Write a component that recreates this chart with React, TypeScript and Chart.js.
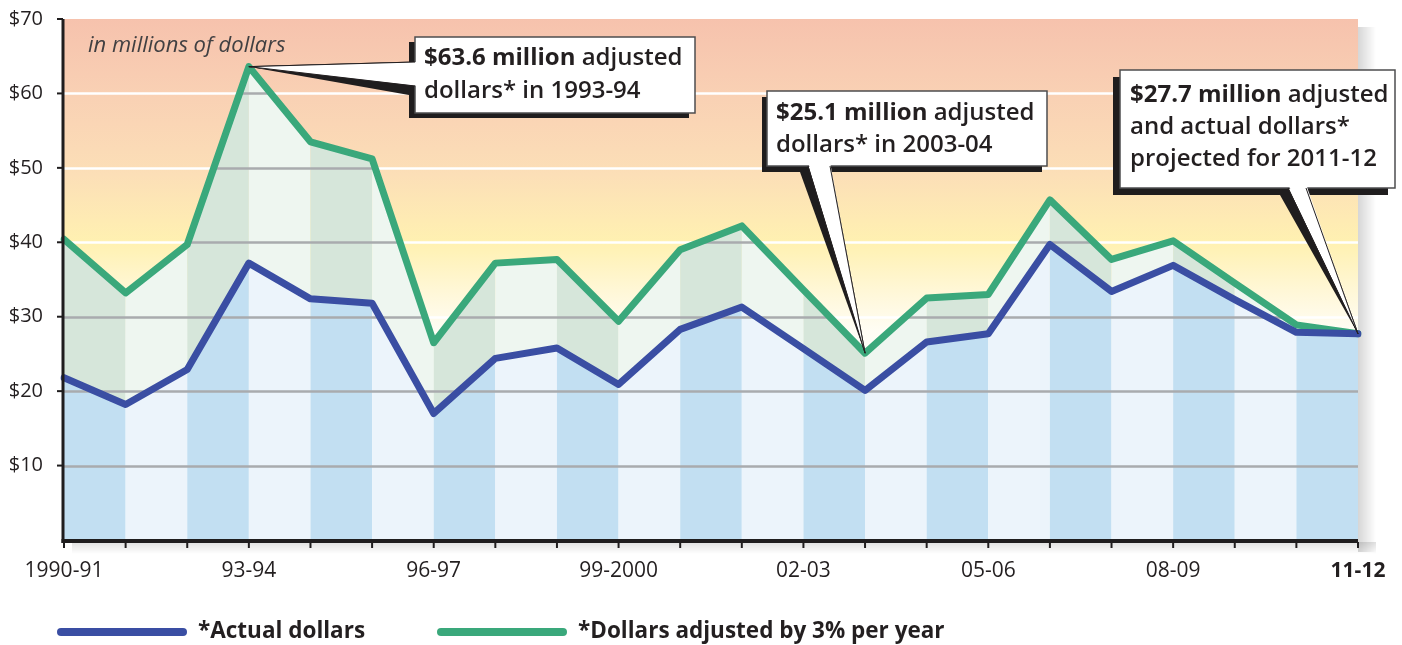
import React, { useEffect, useRef } from 'react';
import { Chart, registerables } from 'chart.js';

Chart.register(...registerables);

// ---------- DATA ----------
const categories = [
  '1990-91', '91-92', '92-93', '93-94', '94-95', '95-96', '96-97', '97-98', '98-99', '99-2000',
  '2000-01', '01-02', '02-03', '03-04', '04-05', '05-06', '06-07', '07-08', '08-09', '09-10',
  '10-11', '11-12',
];
const actualDollars = [
  21.8, 18.2, 22.9, 37.2, 32.4, 31.8, 17.0, 24.4, 25.8, 20.9,
  28.3, 31.3, 25.7, 20.1, 26.6, 27.7, 39.7, 33.4, 36.9, 32.3,
  27.9, 27.7,
];
const adjustedDollars = [
  40.4, 33.2, 39.7, 63.6, 53.5, 51.2, 26.5, 37.2, 37.7, 29.4,
  39.0, 42.2, 33.6, 25.1, 32.5, 33.0, 45.7, 37.7, 40.2, 34.5,
  28.9, 27.7,
];
const shownXLabels = ['1990-91', '93-94', '96-97', '99-2000', '02-03', '05-06', '08-09', '11-12'];
const boldXLabel = '11-12';
const yMax = 70;
const yStep = 10;
const unitNote = 'in millions of dollars';
const seriesNames = ['*Actual dollars', '*Dollars adjusted by 3% per year'];

const callout1Lines = [['$63.6 million', ' adjusted'], ['', 'dollars* in 1993-94']];
const callout2Lines = [['$25.1 million', ' adjusted'], ['', 'dollars* in 2003-04']];
const callout3Lines = [['$27.7 million', ' adjusted'], ['', 'and actual dollars*'], ['', 'projected for 2011-12']];
const callout1Index = 3;
const callout2Index = 13;
const callout3Index = 21;

// ---------- STYLE ----------
const FONT = "'Open Sans', sans-serif";
const TEXT = '#231f20';
const BLUE = '#3a4ea3';
const GREEN = '#3aa87b';

type P = { x: number; y: number };

function drawCallout(
  ctx: CanvasRenderingContext2D,
  tip: P,
  box: { x: number; y: number; w: number; h: number },
  sh: P,
  wB: [P, P],
  sB: [P, P],
  inward: P,
  lines: string[][],
  textX: number,
  textY: number,
  lineH: number,
) {
  ctx.save();
  ctx.fillStyle = '#1f1d1e';
  ctx.fillRect(box.x + sh.x, box.y + sh.y, box.w, box.h);
  ctx.beginPath();
  ctx.moveTo(tip.x, tip.y);
  ctx.lineTo(sB[0].x, sB[0].y);
  ctx.lineTo(sB[1].x, sB[1].y);
  ctx.closePath();
  ctx.fill();
  ctx.beginPath();
  ctx.moveTo(tip.x, tip.y);
  ctx.lineTo(wB[0].x, wB[0].y);
  ctx.lineTo(wB[1].x, wB[1].y);
  ctx.closePath();
  ctx.fillStyle = '#ffffff';
  ctx.fill();
  ctx.strokeStyle = TEXT;
  ctx.lineWidth = 1;
  ctx.stroke();
  ctx.fillStyle = '#ffffff';
  ctx.fillRect(box.x, box.y, box.w, box.h);
  ctx.strokeStyle = '#4d4d4f';
  ctx.lineWidth = 1.5;
  ctx.strokeRect(box.x, box.y, box.w, box.h);
  ctx.beginPath();
  ctx.moveTo(tip.x, tip.y);
  ctx.lineTo(wB[0].x + inward.x, wB[0].y + inward.y);
  ctx.lineTo(wB[1].x + inward.x, wB[1].y + inward.y);
  ctx.closePath();
  ctx.save();
  ctx.clip();
  ctx.fillStyle = '#ffffff';
  ctx.fillRect(Math.min(tip.x, wB[0].x, wB[1].x) - 5, Math.min(tip.y, wB[0].y, wB[1].y) - 5, 2000, 2000);
  ctx.restore();
  ctx.beginPath();
  ctx.moveTo(wB[0].x, wB[0].y);
  ctx.lineTo(tip.x, tip.y);
  ctx.lineTo(wB[1].x, wB[1].y);
  ctx.strokeStyle = TEXT;
  ctx.lineWidth = 1;
  ctx.stroke();
  ctx.fillStyle = TEXT;
  ctx.textBaseline = 'middle';
  ctx.textAlign = 'left';
  lines.forEach((ln, i) => {
    const y = textY + i * lineH;
    let x = textX;
    if (ln[0]) {
      ctx.font = `bold 24px ${FONT}`;
      ctx.fillText(ln[0], x, y);
      x += ctx.measureText(ln[0]).width;
    }
    ctx.font = `600 24px ${FONT}`;
    ctx.fillText(ln[1], x, y);
  });
  ctx.restore();
}

const decorPlugin = {
  id: 'decor',
  beforeDatasetsDraw(chart: any) {
    const { ctx, chartArea: ca, scales } = chart;
    const xs = scales.x;
    const ys = scales.y;
    const base = ys.getPixelForValue(0);
    ctx.save();
    const g = ctx.createLinearGradient(0, ca.top, 0, ca.bottom);
    g.addColorStop(0, '#f6c2ad');
    g.addColorStop(0.15, '#f9d1b4');
    g.addColorStop(0.3, '#fcdfb7');
    g.addColorStop(0.43, '#fff1b1');
    g.addColorStop(0.52, '#fff7d6');
    g.addColorStop(0.6, '#fffdf5');
    g.addColorStop(0.7, '#ffffff');
    g.addColorStop(1, '#ffffff');
    ctx.fillStyle = g;
    ctx.fillRect(ca.left, ca.top, ca.right - ca.left, ca.bottom - ca.top);

    const rs = ctx.createLinearGradient(ca.right, 0, ca.right + 18, 0);
    rs.addColorStop(0, 'rgba(0,0,0,0.16)');
    rs.addColorStop(1, 'rgba(0,0,0,0)');
    ctx.fillStyle = rs;
    ctx.fillRect(ca.right, ca.top + 8, 18, ca.bottom - ca.top + 4);
    const bs = ctx.createLinearGradient(0, ca.bottom + 2, 0, ca.bottom + 14);
    bs.addColorStop(0, 'rgba(0,0,0,0.12)');
    bs.addColorStop(1, 'rgba(0,0,0,0)');
    ctx.fillStyle = bs;
    ctx.fillRect(ca.left + 8, ca.bottom + 2, ca.right - ca.left + 10, 12);

    ctx.strokeStyle = '#ffffff';
    ctx.lineWidth = 2.5;
    for (let v = yStep; v < yMax; v += yStep) {
      const py = Math.round(ys.getPixelForValue(v)) + 0.5;
      ctx.beginPath();
      ctx.moveTo(ca.left, py);
      ctx.lineTo(ca.right, py);
      ctx.stroke();
    }

    const n = categories.length;
    for (let i = 0; i < n - 1; i++) {
      const x0 = xs.getPixelForValue(i);
      const x1 = xs.getPixelForValue(i + 1);
      const b0 = ys.getPixelForValue(actualDollars[i]);
      const b1 = ys.getPixelForValue(actualDollars[i + 1]);
      const g0 = ys.getPixelForValue(adjustedDollars[i]);
      const g1 = ys.getPixelForValue(adjustedDollars[i + 1]);
      const dark = i % 2 === 0;
      ctx.beginPath();
      ctx.moveTo(x0, base);
      ctx.lineTo(x0, b0);
      ctx.lineTo(x1, b1);
      ctx.lineTo(x1, base);
      ctx.closePath();
      ctx.fillStyle = dark ? '#c2dff2' : '#ecf4fb';
      ctx.fill();
      ctx.beginPath();
      ctx.moveTo(x0, b0);
      ctx.lineTo(x0, g0);
      ctx.lineTo(x1, g1);
      ctx.lineTo(x1, b1);
      ctx.closePath();
      ctx.fillStyle = dark ? '#d6e6da' : '#eef6f0';
      ctx.fill();
    }

    ctx.save();
    ctx.beginPath();
    ctx.moveTo(xs.getPixelForValue(0), base);
    for (let i = 0; i < n; i++) ctx.lineTo(xs.getPixelForValue(i), ys.getPixelForValue(adjustedDollars[i]));
    ctx.lineTo(xs.getPixelForValue(n - 1), base);
    ctx.closePath();
    ctx.clip();
    ctx.strokeStyle = '#a9abae';
    ctx.lineWidth = 2.5;
    for (let v = yStep; v < yMax; v += yStep) {
      const py = Math.round(ys.getPixelForValue(v)) + 0.5;
      ctx.beginPath();
      ctx.moveTo(ca.left, py);
      ctx.lineTo(ca.right, py);
      ctx.stroke();
    }
    ctx.restore();

    ctx.fillStyle = '#414042';
    ctx.font = `italic 22px ${FONT}`;
    ctx.textBaseline = 'middle';
    ctx.textAlign = 'left';
    ctx.fillText(unitNote, ca.left + 24, ca.top + 27);
    ctx.restore();
  },
  afterDatasetsDraw(chart: any) {
    const { ctx, chartArea: ca, scales } = chart;
    const xs = scales.x;
    const ys = scales.y;
    const base = ys.getPixelForValue(0);
    ctx.save();
    ctx.strokeStyle = '#1f1d1e';
    ctx.lineWidth = 3;
    ctx.beginPath();
    ctx.moveTo(ca.left - 1, ca.top);
    ctx.lineTo(ca.left - 1, base + 3);
    ctx.stroke();
    ctx.lineWidth = 4;
    ctx.beginPath();
    ctx.moveTo(ca.left - 2.5, base + 1);
    ctx.lineTo(ca.right, base + 1);
    ctx.stroke();
    ctx.lineWidth = 2;
    for (let v = yStep; v <= yMax; v += yStep) {
      const py = ys.getPixelForValue(v);
      ctx.beginPath();
      ctx.moveTo(ca.left - 7, py);
      ctx.lineTo(ca.left - 1, py);
      ctx.stroke();
    }
    for (let i = 0; i < categories.length; i++) {
      const px = xs.getPixelForValue(i);
      ctx.beginPath();
      ctx.moveTo(px, base + 2);
      ctx.lineTo(px, base + 8);
      ctx.stroke();
    }

    const t1 = { x: xs.getPixelForValue(callout1Index), y: ys.getPixelForValue(adjustedDollars[callout1Index]) };
    drawCallout(ctx, t1, { x: 415, y: 37, w: 280, h: 76 }, { x: -6, y: 5 },
      [{ x: 415, y: 62 }, { x: 415, y: 86 }], [{ x: 409, y: 69 }, { x: 409, y: 95 }], { x: 4, y: 0 },
      callout1Lines, 424, 58, 33);
    const t2 = { x: xs.getPixelForValue(callout2Index), y: ys.getPixelForValue(adjustedDollars[callout2Index]) };
    drawCallout(ctx, t2, { x: 767, y: 91, w: 280, h: 75 }, { x: -5, y: 6 },
      [{ x: 808, y: 166 }, { x: 830, y: 166 }], [{ x: 800, y: 172 }, { x: 822, y: 172 }], { x: 0, y: -4 },
      callout2Lines, 776, 113, 32);
    const t3 = { x: xs.getPixelForValue(callout3Index), y: ys.getPixelForValue(actualDollars[callout3Index]) };
    drawCallout(ctx, t3, { x: 1120, y: 70, w: 275, h: 118 }, { x: -7, y: 7 },
      [{ x: 1288, y: 188 }, { x: 1306, y: 188 }], [{ x: 1280, y: 195 }, { x: 1298, y: 195 }], { x: 0, y: -4 },
      callout3Lines, 1130, 95, 32);

    const ly = 632;
    const items = [
      { x: 61, color: BLUE, label: seriesNames[0] },
      { x: 441, color: GREEN, label: seriesNames[1] },
    ];
    items.forEach((it) => {
      ctx.strokeStyle = it.color;
      ctx.lineWidth = 8;
      ctx.lineCap = 'round';
      ctx.beginPath();
      ctx.moveTo(it.x, ly);
      ctx.lineTo(it.x + 122, ly);
      ctx.stroke();
      ctx.fillStyle = TEXT;
      ctx.font = `bold 22.5px ${FONT}`;
      ctx.textBaseline = 'middle';
      ctx.textAlign = 'left';
      ctx.fillText(it.label, it.x + 137, ly);
    });
    ctx.restore();
  },
};

export default function App() {
  const ref = useRef<HTMLCanvasElement | null>(null);
  useEffect(() => {
    if (!ref.current) return;
    const chart = new Chart(ref.current, {
      type: 'line',
      data: {
        labels: categories,
        datasets: [
          {
            label: seriesNames[0],
            data: actualDollars,
            borderColor: BLUE,
            borderWidth: 7,
            pointRadius: 0,
            fill: false,
            tension: 0,
            borderJoinStyle: 'round',
            borderCapStyle: 'round',
          },
          {
            label: seriesNames[1],
            data: adjustedDollars,
            borderColor: GREEN,
            borderWidth: 7,
            pointRadius: 0,
            fill: false,
            tension: 0,
            borderJoinStyle: 'round',
            borderCapStyle: 'round',
          },
        ],
      },
      options: {
        animation: false,
        responsive: false,
        devicePixelRatio: 1,
        layout: { padding: { left: 0, right: 44, top: 19, bottom: 0 } },
        plugins: { legend: { display: false }, tooltip: { enabled: false } },
        scales: {
          x: {
            grid: { display: false, drawTicks: false },
            border: { display: false },
            ticks: {
              autoSkip: false,
              maxRotation: 0,
              minRotation: 0,
              padding: 18,
              color: TEXT,
              font: (c: any) => ({
                family: FONT,
                size: 21,
                weight: categories[c.index] === boldXLabel ? 'bold' : 'normal',
              }),
              callback: (_v: any, i: number) => (shownXLabels.includes(categories[i]) ? categories[i] : ''),
            },
            afterFit: (s: any) => {
              s.height = 105;
              s.paddingLeft = 0;
              s.paddingRight = 0;
            },
          },
          y: {
            min: 0,
            max: yMax,
            grid: { display: false, drawTicks: false },
            border: { display: false },
            ticks: {
              stepSize: yStep,
              padding: 21,
              color: TEXT,
              font: { family: FONT, size: 20 },
              callback: (v: any) => (v === 0 ? '' : '$' + v),
            },
            afterFit: (s: any) => {
              s.width = 64;
              s.paddingTop = 0;
              s.paddingBottom = 0;
            },
          },
        },
      },
      plugins: [decorPlugin],
    });
    return () => chart.destroy();
  }, []);
  return (
    <div style={{ position: 'absolute', left: 0, top: 0, width: 1402, height: 645, background: '#fff' }}>
      <canvas ref={ref} width={1402} height={645} style={{ width: 1402, height: 645, display: 'block' }} />
    </div>
  );
}
